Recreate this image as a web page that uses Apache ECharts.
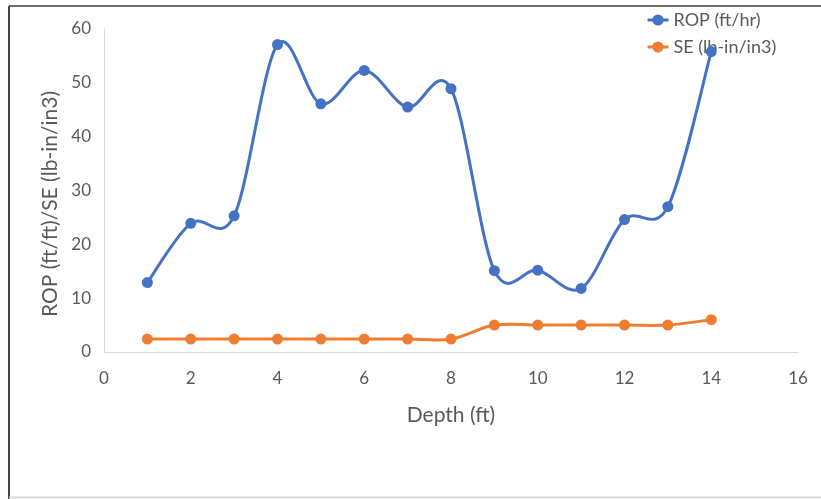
<!DOCTYPE html>
<html>
<head>
<meta charset="utf-8">
<script src="https://cdn.jsdelivr.net/npm/echarts@6/dist/echarts.min.js"></script>
<style>
  html, body { margin: 0; padding: 0; background: #fff; }
  #chart { width: 821px; height: 499px; }
</style>
</head>
<body>
<div id="chart"></div>
<script>
// Depth in feet
const depth = [1, 2, 3, 4, 5, 6, 7, 8, 9, 10, 11, 12, 13, 14];
// Rate of penetration (ft/hr)
const rop = [12.9, 23.9, 25.3, 57.1, 46.1, 52.3, 45.5, 48.9, 15.1, 15.2, 11.8, 24.6, 27.0, 55.8];
// Specific energy (lb-in/in3)
const se = [2.4, 2.4, 2.4, 2.4, 2.4, 2.4, 2.4, 2.4, 5.0, 5.0, 5.0, 5.0, 5.0, 6.0];

const FONT = 'Lato';
const TEXT = '#595959';
const BLUE = '#4472C4';
const ORANGE = '#ED7D31';
const Y_TITLE = 'ROP (ft/ft)/SE (lb-in/in3)';

const pairs = (xs, ys) => xs.map((x, i) => [x, ys[i]]);

// Catmull-Rom style smoothed segment between point i and i+1,
// mapped through the chart's own coordinate system.
function smoothSegment(xs, ys, color) {
  return function (params, api) {
    const i = params.dataIndex;
    const n = xs.length;
    if (i >= n - 1) return null;
    const p = (k) => api.coord([xs[Math.max(0, Math.min(n - 1, k))], ys[Math.max(0, Math.min(n - 1, k))]]);
    const p0 = p(i - 1), p1 = p(i), p2 = p(i + 1), p3 = p(i + 2);
    const t = 1 / 6;
    return {
      type: 'bezierCurve',
      shape: {
        x1: p1[0], y1: p1[1],
        cpx1: p1[0] + (p2[0] - p0[0]) * t, cpy1: p1[1] + (p2[1] - p0[1]) * t,
        cpx2: p2[0] - (p3[0] - p1[0]) * t, cpy2: p2[1] - (p3[1] - p1[1]) * t,
        x2: p2[0], y2: p2[1]
      },
      style: { stroke: color, lineWidth: 3, fill: null, lineCap: 'round' }
    };
  };
}

const chart = echarts.init(document.getElementById('chart'), null, { renderer: 'canvas' });
chart.setOption({
  backgroundColor: '#fff',
  animation: false,
  textStyle: { fontFamily: FONT },
  grid: { left: 104, right: 23, top: 29, bottom: 147, containLabel: false },
  legend: {
    orient: 'vertical',
    left: 641,
    top: 6,
    itemWidth: 21,
    itemHeight: 14,
    itemGap: 9,
    textStyle: { fontFamily: FONT, fontSize: 18, color: TEXT },
    data: [
      { name: 'ROP (ft/hr)', lineStyle: { opacity: 1, width: 3, color: BLUE } },
      { name: 'SE (lb-in/in3)', lineStyle: { opacity: 1, width: 3, color: ORANGE } }
    ]
  },
  xAxis: {
    type: 'value',
    min: 0, max: 16, interval: 2,
    name: 'Depth (ft)',
    nameLocation: 'middle',
    nameGap: 53,
    nameTextStyle: { fontFamily: FONT, fontSize: 21, color: TEXT },
    axisLine: { show: true, lineStyle: { color: '#d9d9d9', width: 1 } },
    axisTick: { show: false },
    splitLine: { show: false },
    axisLabel: { color: TEXT, fontSize: 17, fontFamily: FONT, margin: 18 }
  },
  yAxis: {
    type: 'value',
    min: 0, max: 60, interval: 10,
    axisLine: { show: true, lineStyle: { color: '#d9d9d9', width: 1 } },
    axisTick: { show: false },
    splitLine: { show: false },
    axisLabel: { color: TEXT, fontSize: 17, fontFamily: FONT, margin: 13 }
  },
  series: [
    {
      name: 'ROP (ft/hr)',
      type: 'line',
      data: pairs(depth, rop),
      symbol: 'circle',
      symbolSize: 11,
      z: 4,
      itemStyle: { color: BLUE },
      lineStyle: { color: BLUE, width: 3, opacity: 0 }
    },
    {
      name: 'SE (lb-in/in3)',
      type: 'line',
      data: pairs(depth, se),
      symbol: 'circle',
      symbolSize: 11,
      z: 3,
      itemStyle: { color: ORANGE },
      lineStyle: { color: ORANGE, width: 3, opacity: 0 }
    },
    {
      type: 'custom',
      data: pairs(depth, rop),
      renderItem: smoothSegment(depth, rop, BLUE),
      z: 2,
      silent: true
    },
    {
      type: 'custom',
      data: pairs(depth, se),
      renderItem: smoothSegment(depth, se, ORANGE),
      z: 1,
      silent: true
    }
  ],
  graphic: [
    // vertical axis title
    {
      type: 'text', x: 50, y: 204, rotation: Math.PI / 2,
      style: { text: Y_TITLE, fontFamily: FONT, fontSize: 21, fill: TEXT, align: 'center', verticalAlign: 'middle' }
    },
    // frame around the chart area
    { type: 'line', shape: { x1: 9, y1: 6, x2: 821, y2: 6 }, style: { stroke: '#6e6e6e', lineWidth: 2 } },
    { type: 'line', shape: { x1: 9, y1: 6, x2: 9, y2: 499 }, style: { stroke: '#444', lineWidth: 2 } },
    { type: 'line', shape: { x1: 9, y1: 497.5, x2: 821, y2: 497.5 }, style: { stroke: '#d9d9d9', lineWidth: 2 } }
  ]
});
</script>
</body>
</html>
